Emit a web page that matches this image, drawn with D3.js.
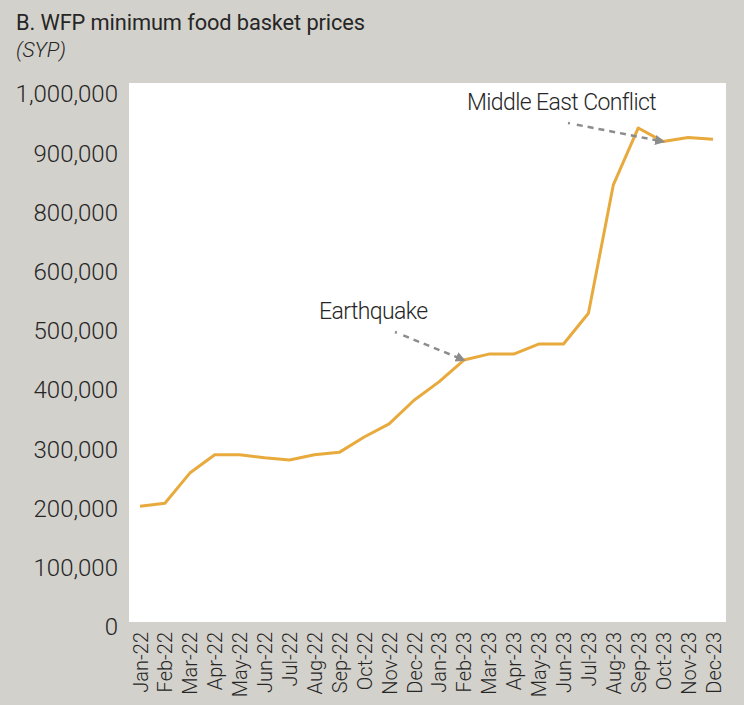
<!DOCTYPE html>
<html><head><meta charset="utf-8">
<script src="https://cdn.jsdelivr.net/npm/d3@7"></script>
<style>
html,body{margin:0;padding:0;background:#d3d1cb;}
svg{display:block;}
text{font-family:Roboto,"Liberation Sans",sans-serif;fill:#262626;}
</style></head>
<body>
<svg id="chart" width="744" height="705"></svg>
<script>
const months = ["Jan-22","Feb-22","Mar-22","Apr-22","May-22","Jun-22","Jul-22","Aug-22","Sep-22","Oct-22","Nov-22","Dec-22",
                "Jan-23","Feb-23","Mar-23","Apr-23","May-23","Jun-23","Jul-23","Aug-23","Sep-23","Oct-23","Nov-23","Dec-23"];
const prices = [204000,209000,260000,291000,291000,286000,282000,291000,295000,321000,343000,383000,
                414000,451000,461000,461000,478000,478000,530000,847000,943000,920000,927000,924000];
const yTickValues = [0,100000,200000,300000,400000,500000,600000,800000,900000,1000000];
const yTickLabels = ["0","100,000","200,000","300,000","400,000","500,000","600,000","800,000","900,000","1,000,000"];
const annotations = [
  {label:"Earthquake", month:"Feb-23"},
  {label:"Middle East Conflict", month:"Oct-23"}
];

const svg = d3.select("#chart");
const plot = {left:129, right:726, top:83, bottom:622};
const y0 = 627, yStep = 59.2;

svg.append("rect").attr("x",plot.left).attr("y",plot.top)
  .attr("width",plot.right-plot.left).attr("height",plot.bottom-plot.top).attr("fill","#ffffff");

const x = d3.scalePoint().domain(months).range([140,713]);
const y = d3.scaleLinear().domain(yTickValues).range(yTickValues.map((d,i)=>y0 - i*yStep));

// title
svg.append("text").attr("x",16).attr("y",30).attr("font-size",21.8).attr("letter-spacing",-0.1).text("B. WFP minimum food basket prices");
svg.append("text").attr("x",16).attr("y",57).attr("font-size",21).attr("font-style","italic").attr("font-weight",300).text("(SYP)");

// y axis
const yAxis = d3.axisLeft(y).tickValues(yTickValues).tickFormat((d,i)=>yTickLabels[i]).tickSize(0).tickPadding(0);
const gy = svg.append("g").attr("transform","translate(118,0)").call(yAxis);
gy.select(".domain").remove();
gy.selectAll("text").attr("font-size",24).attr("font-weight",300).attr("fill","#262626")
  .attr("font-family","Roboto,'Liberation Sans',sans-serif");

// x axis
const xAxis = d3.axisBottom(x).tickSize(0).tickPadding(0);
const gx = svg.append("g").attr("transform","translate(0,632)").call(xAxis);
gx.select(".domain").remove();
gx.selectAll("text").attr("font-size",20).attr("font-weight",300).attr("fill","#262626")
  .attr("font-family","Roboto,'Liberation Sans',sans-serif")
  .attr("text-anchor","end").attr("transform","rotate(-90)")
  .attr("x",0).attr("y",0).attr("dy","0.35em");

// line
const line = d3.line().x((d,i)=>x(months[i])).y(d=>y(d));
svg.append("path").datum(prices).attr("d",line).attr("fill","none")
  .attr("stroke","#e8aa3c").attr("stroke-width",3).attr("stroke-linejoin","round");

// arrows
const defs = svg.append("defs");
defs.append("marker").attr("id","arr").attr("viewBox","0 0 10 10").attr("refX",8).attr("refY",5)
  .attr("markerWidth",4).attr("markerHeight",4).attr("orient","auto")
  .append("path").attr("d","M0,0 L10,5 L0,10 z").attr("fill","#8c8c8c");

const annLayout = [
  {tx:319, ty:319, ax1:395, ay1:332},
  {tx:467, ty:110, ax1:568, ay1:123}
];
annotations.forEach((a,i)=>{
  const L = annLayout[i];
  const idx = months.indexOf(a.month);
  svg.append("text").attr("x",L.tx).attr("y",L.ty).attr("font-size",23).attr("font-weight",300)
    .attr("letter-spacing",-0.6).text(a.label);
  svg.append("line").attr("x1",L.ax1).attr("y1",L.ay1).attr("x2",x(a.month)).attr("y2",y(prices[idx]))
    .attr("stroke","#8c8c8c").attr("stroke-width",2.5).attr("stroke-dasharray","2,7,6,5,6,5,6,5,6,5,6,5,6,5,6,5,6,5")
    .attr("marker-end","url(#arr)");
});
</script>
</body></html>
